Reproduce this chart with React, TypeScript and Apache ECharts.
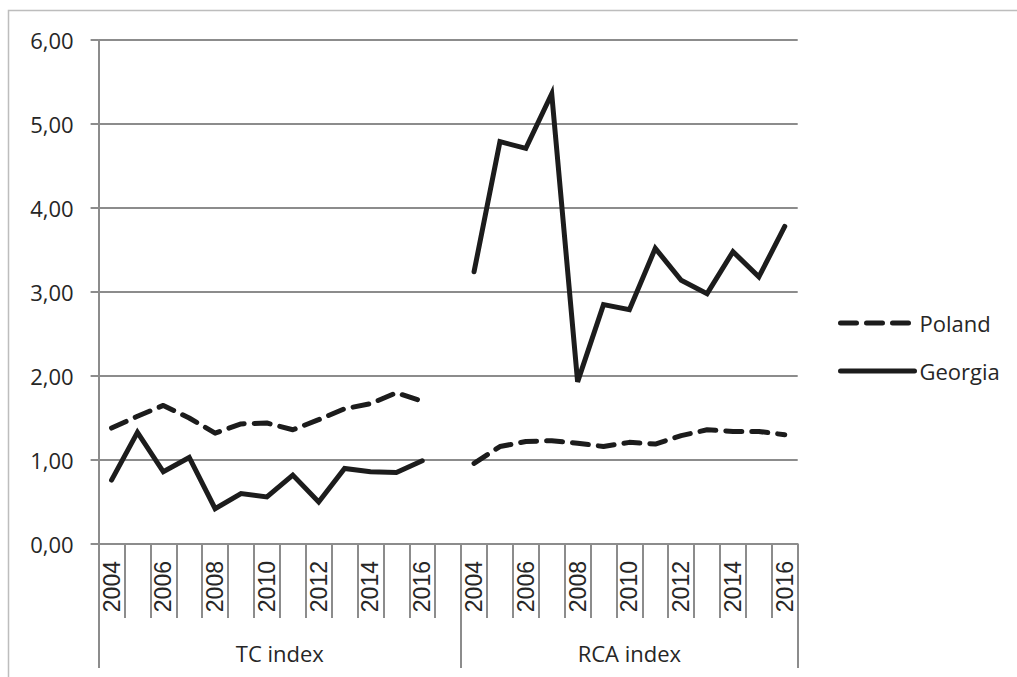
import React, { useEffect, useRef } from "react";
import * as echarts from "echarts";

const years = ["2004","2005","2006","2007","2008","2009","2010","2011","2012","2013","2014","2015","2016"];
const groupNames = ["TC index", "RCA index"];
const tcPoland = [1.38, 1.52, 1.65, 1.50, 1.32, 1.43, 1.44, 1.36, 1.48, 1.61, 1.67, 1.80, 1.70];
const tcGeorgia = [0.76, 1.33, 0.86, 1.03, 0.42, 0.60, 0.56, 0.82, 0.50, 0.90, 0.86, 0.85, 0.99];
const rcaPoland = [0.96, 1.16, 1.22, 1.23, 1.20, 1.16, 1.21, 1.19, 1.29, 1.36, 1.34, 1.34, 1.30];
const rcaGeorgia = [3.24, 4.79, 4.71, 5.36, 1.93, 2.85, 2.79, 3.52, 3.14, 2.98, 3.48, 3.18, 3.78];
const yTicks = [0, 1, 2, 3, 4, 5, 6];

// TC group has one trailing empty category (14 slots), RCA group 13
const categories = [...years, "", ...years];
const groupSizes = [years.length + 1, years.length];
const poland = [...tcPoland, null, ...rcaPoland];
const georgia = [...tcGeorgia, null, ...rcaGeorgia];

const GRID = "#8c8c8c";
const INK = "#1c1c1c";
const SANS = "'Open Sans', 'Noto Sans', sans-serif";

export default function App() {
  const ref = useRef<HTMLDivElement>(null);
  useEffect(() => {
    if (!ref.current) return;
    const chart = echarts.init(ref.current, null, { renderer: "svg" });
    const total = categories.length;
    const bounds = [0, groupSizes[0], groupSizes[0] + groupSizes[1]];
    const centers = [groupSizes[0] / 2, groupSizes[0] + groupSizes[1] / 2];
    const hiddenSymbol = { color: "transparent", borderWidth: 0, opacity: 0 };
    chart.setOption({
      animation: false,
      backgroundColor: "#ffffff",
      graphic: [
        {
          type: "rect",
          shape: { x: 8.5, y: 10.5, width: 1100, height: 800 },
          style: { fill: "none", stroke: "#bdbdbd", lineWidth: 1.5 },
          silent: true,
        },
      ],
      grid: { left: 98.6, right: 219.3, top: 40, bottom: 133, containLabel: false },
      legend: {
        orient: "vertical",
        left: 833,
        top: 306,
        itemWidth: 74,
        itemHeight: 14,
        itemGap: 24,
        textStyle: { fontFamily: SANS, fontSize: 22, color: "#262626", lineHeight: 24 },
        data: [
          {
            name: "Poland",
            itemStyle: hiddenSymbol,
            lineStyle: { width: 5, color: INK, type: [16, 10], cap: "round" },
          },
          {
            name: "Georgia",
            itemStyle: hiddenSymbol,
            lineStyle: { width: 5, color: INK, type: "solid", cap: "round" },
          },
        ],
      },
      xAxis: [
        {
          type: "category",
          data: categories,
          boundaryGap: true,
          axisLine: { show: true, lineStyle: { color: GRID, width: 2 } },
          axisTick: { show: true, interval: 0, length: 74, lineStyle: { color: GRID, width: 2 } },
          axisLabel: {
            interval: 1,
            rotate: 90,
            margin: 17,
            fontFamily: "'Liberation Sans', Arial, sans-serif",
            fontSize: 23,
            color: "#262626",
          },
          splitLine: { show: false },
        },
        {
          type: "value",
          position: "bottom",
          offset: 74,
          min: 0,
          max: total,
          axisLine: { show: false },
          splitLine: { show: false },
          axisTick: {
            show: true,
            customValues: bounds,
            length: 50,
            lineStyle: { color: GRID, width: 2 },
          },
          axisLabel: {
            customValues: centers,
            margin: 24,
            fontFamily: SANS,
            fontSize: 22,
            color: "#262626",
            formatter: (v: number) => {
              const i = centers.findIndex((c) => Math.abs(c - v) < 1e-6);
              return i >= 0 ? groupNames[i] : "";
            },
          },
        },
      ],
      yAxis: {
        type: "value",
        min: yTicks[0],
        max: yTicks[yTicks.length - 1],
        interval: 1,
        axisLine: { show: true, lineStyle: { color: GRID, width: 2 } },
        axisTick: { show: true, length: 8, lineStyle: { color: GRID, width: 2 } },
        splitLine: { show: true, lineStyle: { color: GRID, width: 2 } },
        axisLabel: {
          margin: 25,
          fontFamily: SANS,
          fontSize: 22,
          color: "#262626",
          formatter: (v: number) => v.toFixed(2).replace(".", ","),
        },
      },
      series: [
        {
          name: "Poland",
          type: "line",
          xAxisIndex: 0,
          data: poland,
          symbol: "none",
          connectNulls: false,
          lineStyle: { color: INK, width: 5, type: [16, 10], cap: "round", join: "round" },
          itemStyle: { color: INK },
        },
        {
          name: "Georgia",
          type: "line",
          xAxisIndex: 0,
          data: georgia,
          symbol: "none",
          connectNulls: false,
          lineStyle: { color: INK, width: 5, type: "solid", cap: "round", join: "miter" },
          itemStyle: { color: INK },
        },
      ],
    });
    return () => chart.dispose();
  }, []);
  return (
    <div
      ref={ref}
      style={{ position: "fixed", left: 0, top: 0, width: 1017, height: 677, background: "#fff" }}
    />
  );
}
